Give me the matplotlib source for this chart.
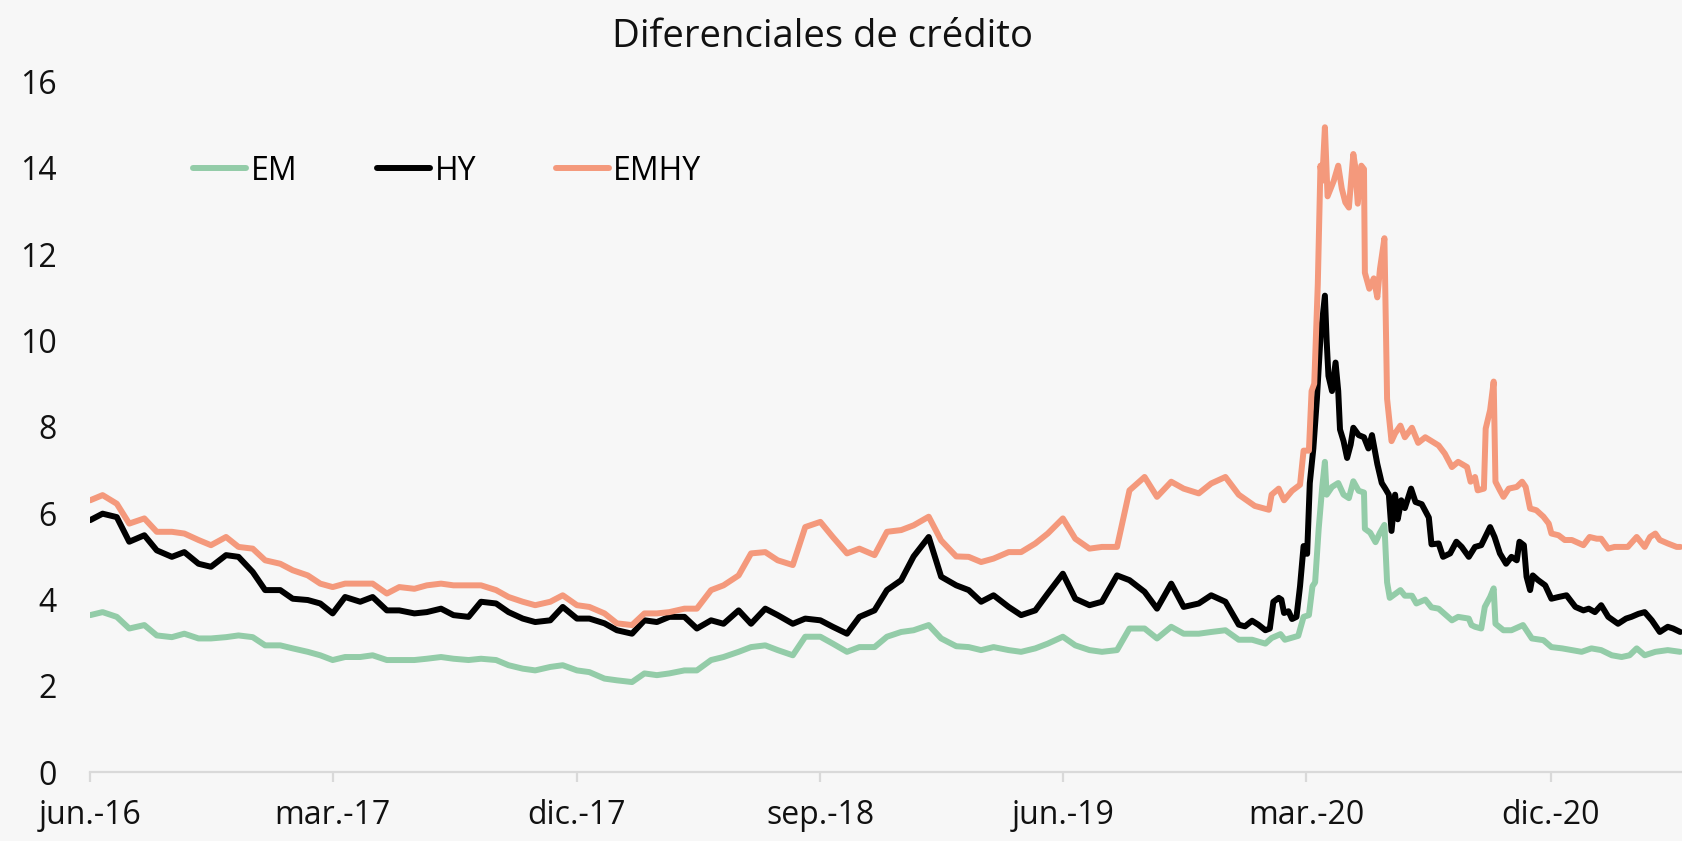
import matplotlib
matplotlib.use("Agg")
import matplotlib.pyplot as plt
import pandas as pd

plt.rcParams['font.family'] = ['Open Sans', 'DejaVu Sans']

# ---------------- data ----------------
title = "Diferenciales de crédito"
series_names = ["EM", "HY", "EMHY"]
series_colors = ["#93cca8", "#000000", "#f4997c"]

# semi-monthly readings, Jun-2016 .. Dec-2019 (1st and 15th of each month)
early_start = "2016-06-01"
early_count = 85

em_early = [3.64, 3.71, 3.60, 3.33, 3.41, 3.17, 3.13, 3.21, 3.10, 3.10, 3.13, 3.17, 3.13, 2.94, 2.94,
            2.87, 2.79, 2.71, 2.60, 2.67, 2.67, 2.71, 2.60, 2.60, 2.60, 2.63, 2.67, 2.63, 2.60, 2.63,
            2.60, 2.48, 2.40, 2.36, 2.44, 2.48, 2.36, 2.32, 2.17, 2.13, 2.09, 2.29, 2.25, 2.29, 2.36,
            2.36, 2.60, 2.67, 2.79, 2.90, 2.94, 2.83, 2.71, 3.14, 3.14, 2.98, 2.79, 2.90, 2.90, 3.14,
            3.25, 3.29, 3.41, 3.10, 2.92, 2.90, 2.83, 2.90, 2.83, 2.79, 2.87, 2.98, 3.14, 2.94, 2.83,
            2.79, 2.83, 3.33, 3.33, 3.10, 3.37, 3.21, 3.21, 3.25, 3.29]

hy_early = [5.84, 5.99, 5.91, 5.34, 5.49, 5.14, 4.99, 5.10, 4.83, 4.76, 5.03, 4.99, 4.64, 4.22, 4.22,
            4.02, 3.99, 3.91, 3.68, 4.06, 3.95, 4.06, 3.75, 3.75, 3.68, 3.71, 3.79, 3.64, 3.60, 3.95,
            3.91, 3.71, 3.56, 3.48, 3.52, 3.83, 3.56, 3.56, 3.45, 3.29, 3.21, 3.52, 3.48, 3.60, 3.60,
            3.33, 3.52, 3.44, 3.75, 3.44, 3.79, 3.64, 3.44, 3.56, 3.52, 3.37, 3.21, 3.60, 3.75, 4.22,
            4.45, 5.00, 5.45, 4.53, 4.33, 4.22, 3.95, 4.10, 3.83, 3.64, 3.75, 4.14, 4.60, 4.02, 3.87,
            3.95, 4.56, 4.45, 4.18, 3.79, 4.37, 3.83, 3.91, 4.10, 3.95]

emhy_early = [6.30, 6.42, 6.22, 5.76, 5.88, 5.57, 5.57, 5.53, 5.38, 5.26, 5.45, 5.22, 5.18, 4.91, 4.83,
              4.68, 4.56, 4.37, 4.29, 4.37, 4.37, 4.37, 4.14, 4.29, 4.25, 4.33, 4.37, 4.33, 4.33, 4.33,
              4.22, 4.06, 3.95, 3.87, 3.95, 4.10, 3.87, 3.83, 3.68, 3.45, 3.41, 3.68, 3.68, 3.71, 3.79,
              3.79, 4.22, 4.33, 4.56, 5.07, 5.10, 4.91, 4.80, 5.68, 5.80, 5.45, 5.07, 5.18, 5.03, 5.57,
              5.61, 5.72, 5.92, 5.37, 5.00, 4.99, 4.87, 4.95, 5.10, 5.10, 5.30, 5.53, 5.88, 5.41, 5.18,
              5.22, 5.22, 6.53, 6.84, 6.38, 6.73, 6.57, 6.46, 6.69, 6.84]

# finer readings from mid-Dec 2019 to end of sample
em_late_dates = ['2019-12-16', '2019-12-31', '2020-01-15', '2020-01-22', '2020-02-01', '2020-02-06',
                 '2020-02-21', '2020-02-27', '2020-03-04', '2020-03-08', '2020-03-11', '2020-03-15',
                 '2020-03-19', '2020-03-22', '2020-03-24', '2020-03-30', '2020-04-06', '2020-04-12',
                 '2020-04-18', '2020-04-23', '2020-04-29', '2020-05-05', '2020-05-06', '2020-05-12',
                 '2020-05-18', '2020-05-23', '2020-05-28', '2020-05-31', '2020-06-03', '2020-06-09',
                 '2020-06-15', '2020-06-20', '2020-06-28', '2020-07-03', '2020-07-13', '2020-07-20',
                 '2020-07-28', '2020-08-12', '2020-08-19', '2020-08-31', '2020-09-03', '2020-09-07',
                 '2020-09-14', '2020-09-18', '2020-09-24', '2020-09-28', '2020-09-30', '2020-10-09',
                 '2020-10-18', '2020-10-31', '2020-11-10', '2020-11-23', '2020-12-02', '2020-12-14',
                 '2020-12-25', '2021-01-05', '2021-01-16', '2021-01-27', '2021-02-08', '2021-02-19',
                 '2021-02-28', '2021-03-08', '2021-03-17', '2021-03-29', '2021-04-12', '2021-04-26']
em_late = [3.07, 3.07, 2.98, 3.11, 3.20, 3.07, 3.16, 3.60, 3.64, 4.31, 4.40, 5.64, 6.61, 7.19, 6.43,
           6.61, 6.70, 6.43, 6.35, 6.74, 6.52, 6.48, 5.64, 5.55, 5.33, 5.55, 5.73, 4.40, 4.04, 4.13,
           4.22, 4.09, 4.09, 3.91, 4.00, 3.82, 3.79, 3.52, 3.60, 3.56, 3.41, 3.37, 3.33, 3.83, 4.06,
           4.26, 3.44, 3.29, 3.29, 3.41, 3.10, 3.06, 2.90, 2.87, 2.83, 2.79, 2.87, 2.83, 2.71, 2.67,
           2.71, 2.87, 2.71, 2.79, 2.83, 2.79]

hy_late_dates = ['2019-12-16', '2019-12-23', '2019-12-31', '2020-01-07', '2020-01-15', '2020-01-20',
                 '2020-01-24', '2020-01-30', '2020-02-02', '2020-02-05', '2020-02-10', '2020-02-14',
                 '2020-02-19', '2020-02-23', '2020-02-27', '2020-03-02', '2020-03-05', '2020-03-09',
                 '2020-03-13', '2020-03-17', '2020-03-22', '2020-03-24', '2020-03-26', '2020-03-30',
                 '2020-04-03', '2020-04-06', '2020-04-08', '2020-04-12', '2020-04-16', '2020-04-20',
                 '2020-04-23', '2020-04-29', '2020-05-05', '2020-05-10', '2020-05-14', '2020-05-20',
                 '2020-05-25', '2020-05-29', '2020-06-02', '2020-06-05', '2020-06-09', '2020-06-12',
                 '2020-06-16', '2020-06-20', '2020-06-27', '2020-07-02', '2020-07-09', '2020-07-17',
                 '2020-07-20', '2020-07-28', '2020-08-02', '2020-08-10', '2020-08-17', '2020-08-23',
                 '2020-08-31', '2020-09-07', '2020-09-14', '2020-09-24', '2020-09-29', '2020-10-05',
                 '2020-10-12', '2020-10-18', '2020-10-24', '2020-10-27', '2020-11-01', '2020-11-04',
                 '2020-11-08', '2020-11-11', '2020-11-17', '2020-11-25', '2020-12-02', '2020-12-10',
                 '2020-12-19', '2020-12-29', '2021-01-07', '2021-01-13', '2021-01-20', '2021-01-27',
                 '2021-02-04', '2021-02-15', '2021-02-24', '2021-03-02', '2021-03-10', '2021-03-17',
                 '2021-03-25', '2021-04-03', '2021-04-12', '2021-04-18', '2021-04-26']
hy_late = [3.42, 3.38, 3.51, 3.42, 3.29, 3.33, 3.95, 4.04, 4.00, 3.69, 3.73, 3.55, 3.60, 4.31, 5.24,
           5.06, 6.70, 7.50, 8.65, 10.07, 11.04, 9.98, 9.18, 8.83, 9.49, 8.83, 7.94, 7.67, 7.28, 7.59,
           7.98, 7.81, 7.76, 7.50, 7.81, 7.14, 6.70, 6.57, 6.43, 5.59, 6.43, 5.86, 6.30, 6.12, 6.57,
           6.26, 6.21, 5.90, 5.28, 5.30, 4.99, 5.07, 5.34, 5.22, 4.99, 5.22, 5.26, 5.68, 5.45, 5.07,
           4.83, 4.99, 4.91, 5.34, 5.26, 4.53, 4.22, 4.56, 4.45, 4.33, 4.02, 4.06, 4.10, 3.83, 3.75,
           3.79, 3.71, 3.87, 3.60, 3.44, 3.56, 3.60, 3.67, 3.71, 3.52, 3.25, 3.37, 3.33, 3.25]

emhy_late_dates = ['2019-12-16', '2020-01-03', '2020-01-19', '2020-01-22', '2020-01-30', '2020-02-05',
                   '2020-02-14', '2020-02-23', '2020-02-27', '2020-03-04', '2020-03-07', '2020-03-10',
                   '2020-03-14', '2020-03-17', '2020-03-19', '2020-03-22', '2020-03-25', '2020-04-01',
                   '2020-04-06', '2020-04-10', '2020-04-14', '2020-04-18', '2020-04-23', '2020-04-25',
                   '2020-04-28', '2020-05-02', '2020-05-05', '2020-05-06', '2020-05-11', '2020-05-16',
                   '2020-05-20', '2020-05-23', '2020-05-28', '2020-05-31', '2020-06-05', '2020-06-09',
                   '2020-06-15', '2020-06-20', '2020-06-28', '2020-07-05', '2020-07-13', '2020-07-20',
                   '2020-07-28', '2020-08-04', '2020-08-12', '2020-08-19', '2020-08-29', '2020-09-02',
                   '2020-09-07', '2020-09-10', '2020-09-17', '2020-09-19', '2020-09-24', '2020-09-28',
                   '2020-09-30', '2020-10-05', '2020-10-09', '2020-10-15', '2020-10-24', '2020-10-30',
                   '2020-11-03', '2020-11-08', '2020-11-15', '2020-11-23', '2020-11-29', '2020-12-02',
                   '2020-12-10', '2020-12-17', '2020-12-25', '2021-01-07', '2021-01-14', '2021-01-22',
                   '2021-01-27', '2021-02-04', '2021-02-11', '2021-02-21', '2021-02-26', '2021-03-08',
                   '2021-03-17', '2021-03-23', '2021-03-29', '2021-04-03', '2021-04-12', '2021-04-22',
                   '2021-04-26']
emhy_late = [6.43, 6.17, 6.08, 6.43, 6.57, 6.30, 6.52, 6.66, 7.45, 7.45, 8.83, 9.00, 11.30, 14.05,
             13.70, 14.94, 13.34, 13.70, 14.05, 13.52, 13.20, 13.08, 14.32, 14.05, 13.17, 14.05, 13.97,
             11.57, 11.20, 11.44, 11.00, 11.66, 12.37, 8.65, 7.67, 7.85, 8.03, 7.76, 7.98, 7.63, 7.76,
             7.67, 7.57, 7.38, 7.07, 7.19, 7.07, 6.73, 6.84, 6.53, 6.57, 7.96, 8.39, 9.05, 6.73, 6.53,
             6.38, 6.57, 6.61, 6.73, 6.61, 6.11, 6.07, 5.92, 5.76, 5.53, 5.49, 5.38, 5.38, 5.26, 5.45,
             5.41, 5.41, 5.18, 5.22, 5.22, 5.22, 5.45, 5.22, 5.45, 5.53, 5.38, 5.30, 5.22, 5.22]

tick_dates = ['2016-06-01', '2017-03-01', '2017-12-01', '2018-09-01', '2019-06-01', '2020-03-01', '2020-12-01']
tick_labels = ['jun.-16', 'mar.-17', 'dic.-17', 'sep.-18', 'jun.-19', 'mar.-20', 'dic.-20']
y_ticks = [0, 2, 4, 6, 8, 10, 12, 14, 16]

# ---------------- build series ----------------
early_dates = pd.date_range(early_start, periods=early_count, freq='SMS')
em_x = list(early_dates) + list(pd.to_datetime(em_late_dates))
hy_x = list(early_dates) + list(pd.to_datetime(hy_late_dates))
emhy_x = list(early_dates) + list(pd.to_datetime(emhy_late_dates))
em_y = em_early + em_late
hy_y = hy_early + hy_late
emhy_y = emhy_early + emhy_late

bg = '#f7f7f7'
fig = plt.figure(figsize=(16.82, 8.41), dpi=100, facecolor=bg)
ax = fig.add_axes([0.0536, 0.0817, 0.9464, 0.8214])
ax.set_facecolor(bg)

lw = 4.3
lines = []
for xs, ys, name, col in [(em_x, em_y, series_names[0], series_colors[0]),
                          (hy_x, hy_y, series_names[1], series_colors[1]),
                          (emhy_x, emhy_y, series_names[2], series_colors[2])]:
    ln, = ax.plot(xs, ys, color=col, lw=lw, label=name, solid_joinstyle='round',
                  solid_capstyle='round', clip_on=True)
    lines.append(ln)

ax.set_xlim(pd.Timestamp('2016-06-01'), pd.Timestamp('2021-04-28'))
ax.set_ylim(0, 16)
ax.set_yticks(y_ticks)
ax.set_xticks(pd.to_datetime(tick_dates))
ax.set_xticklabels(tick_labels)

for s in ['top', 'right', 'left']:
    ax.spines[s].set_visible(False)
ax.spines['bottom'].set_color('#d9d9d9')
ax.spines['bottom'].set_linewidth(1.6)

ax.tick_params(axis='y', length=0, labelsize=23, pad=24, labelcolor='#111111')
ax.tick_params(axis='x', length=7, width=1.6, color='#d9d9d9', labelsize=23, pad=12,
               labelcolor='#111111')

leg = fig.legend(handles=lines, labels=series_names, loc='center left',
                 bbox_to_anchor=(193 / 1682, 1 - 171 / 841), ncol=3, frameon=False,
                 fontsize=23, handlelength=1.65, handletextpad=0.15, columnspacing=2.5,
                 borderpad=0, borderaxespad=0)
for h in leg.legend_handles:
    h.set_solid_capstyle('round')

fig.text(822 / 1682, 1 - 47 / 841, title, ha='center', va='baseline', fontsize=27.5,
         color='#111111')

fig.savefig('out.png', dpi=100, facecolor=bg)
